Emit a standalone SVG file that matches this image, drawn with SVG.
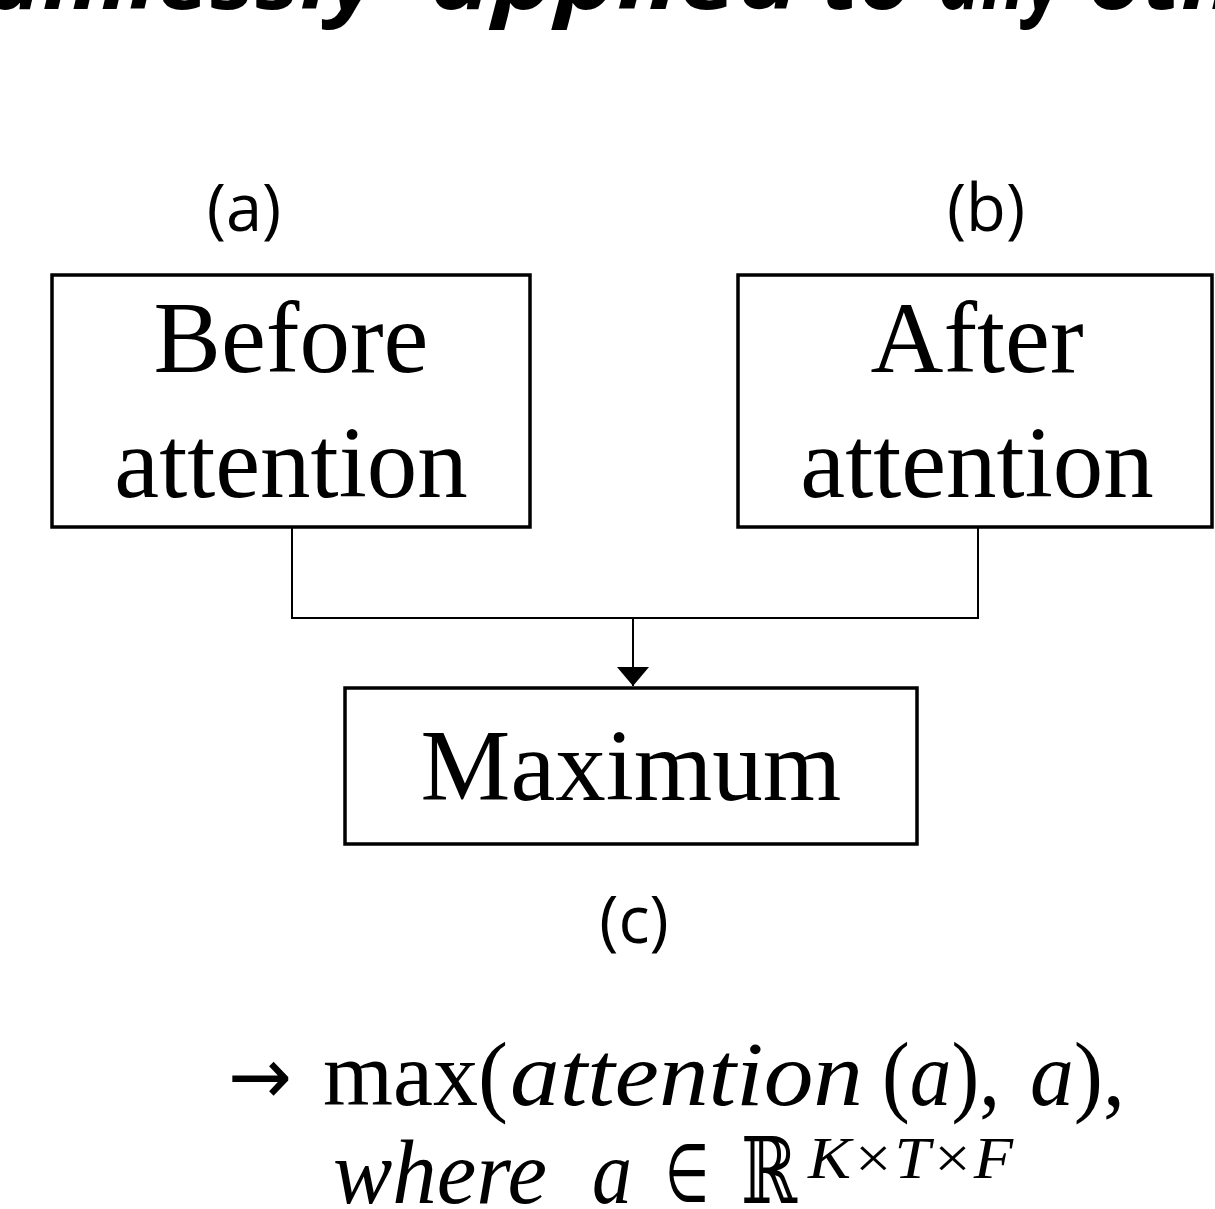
<svg xmlns="http://www.w3.org/2000/svg" width="1215" height="1209" viewBox="0 0 1215 1209">
<style>
.box{fill:#fff;stroke:#000;stroke-width:3.5}
.t{font-family:"Liberation Serif","DejaVu Serif",serif;font-size:101px;text-anchor:middle;fill:#000}
.lab{font-family:"Open Sans","Liberation Sans",sans-serif;font-size:65px;text-anchor:middle;fill:#000}
.m{font-family:"Liberation Serif","DejaVu Serif",serif;font-size:92px;fill:#000}
.i{font-style:italic}
.sup{font-size:60px}
.sym{font-family:"DejaVu Sans",sans-serif;font-size:80px}
.c{fill:none;stroke:#000;stroke-width:2}
.top{font-family:"Open Sans","Liberation Sans",sans-serif;font-weight:bold;font-style:italic;font-size:86px;fill:#000}
</style>
<defs>
<marker id="ah" markerWidth="20" markerHeight="32" refX="19" refY="16" orient="auto" markerUnits="userSpaceOnUse">
<path d="M0,0 L19,16 L0,32 Z" fill="#000"/>
</marker>
</defs>
<text class="top" x="-14" y="9" textLength="392" lengthAdjust="spacingAndGlyphs">amlessly</text>
<text class="top" x="430" y="9" textLength="370" lengthAdjust="spacingAndGlyphs">applied</text>
<text class="top" x="822" y="9" textLength="90" lengthAdjust="spacingAndGlyphs">to</text>
<text class="top" x="938" y="9" textLength="125" lengthAdjust="spacingAndGlyphs">any</text>
<text class="top" x="1088" y="9" textLength="150" lengthAdjust="spacingAndGlyphs">oth</text>
<g id="connectors">
<polyline class="c" points="292,528 292,618 978,618 978,528"/>
<line class="c" x1="633" y1="618" x2="633" y2="686" marker-end="url(#ah)"/>
</g>
<g id="node-before">
<rect class="box" x="52" y="275" width="478" height="252"/>
<text class="t" x="291" y="372">Before</text>
<text class="t" x="291" y="497">attention</text>
</g>
<g id="node-after">
<rect class="box" x="738" y="275" width="474" height="252"/>
<text class="t" x="977" y="372">After</text>
<text class="t" x="977" y="497">attention</text>
</g>
<g id="node-maximum">
<rect class="box" x="345" y="688" width="572" height="156"/>
<text class="t" x="631" y="800">Maximum</text>
</g>
<text class="lab" x="244" y="231">(a)</text>
<text class="lab" x="986" y="231">(b)</text>
<text class="lab" x="634" y="943">(c)</text>
<g id="formula">
<text class="m sym" x="228" y="1104" textLength="64" lengthAdjust="spacingAndGlyphs">→</text>
<text class="m" x="323" y="1105" textLength="185" lengthAdjust="spacingAndGlyphs">max(</text>
<text class="m i" x="510" y="1105" textLength="353" lengthAdjust="spacingAndGlyphs">attention</text>
<text class="m" x="882" y="1105" textLength="118" lengthAdjust="spacingAndGlyphs">(<tspan class="i">a</tspan>),</text>
<text class="m" x="1030" y="1105" textLength="95" lengthAdjust="spacingAndGlyphs"><tspan class="i">a</tspan>),</text>
<text class="m i" x="333" y="1203" textLength="214" lengthAdjust="spacingAndGlyphs">where</text>
<text class="m i" x="592" y="1203" textLength="40" lengthAdjust="spacingAndGlyphs">a</text>
<text class="m sym" x="665" y="1201" textLength="44" lengthAdjust="spacingAndGlyphs">∈</text>
<text class="m" x="741" y="1203" textLength="56" lengthAdjust="spacingAndGlyphs">ℝ</text>
<text class="m i sup" x="808" y="1178" textLength="205" lengthAdjust="spacingAndGlyphs">K×T×F</text>
</g>
</svg>
